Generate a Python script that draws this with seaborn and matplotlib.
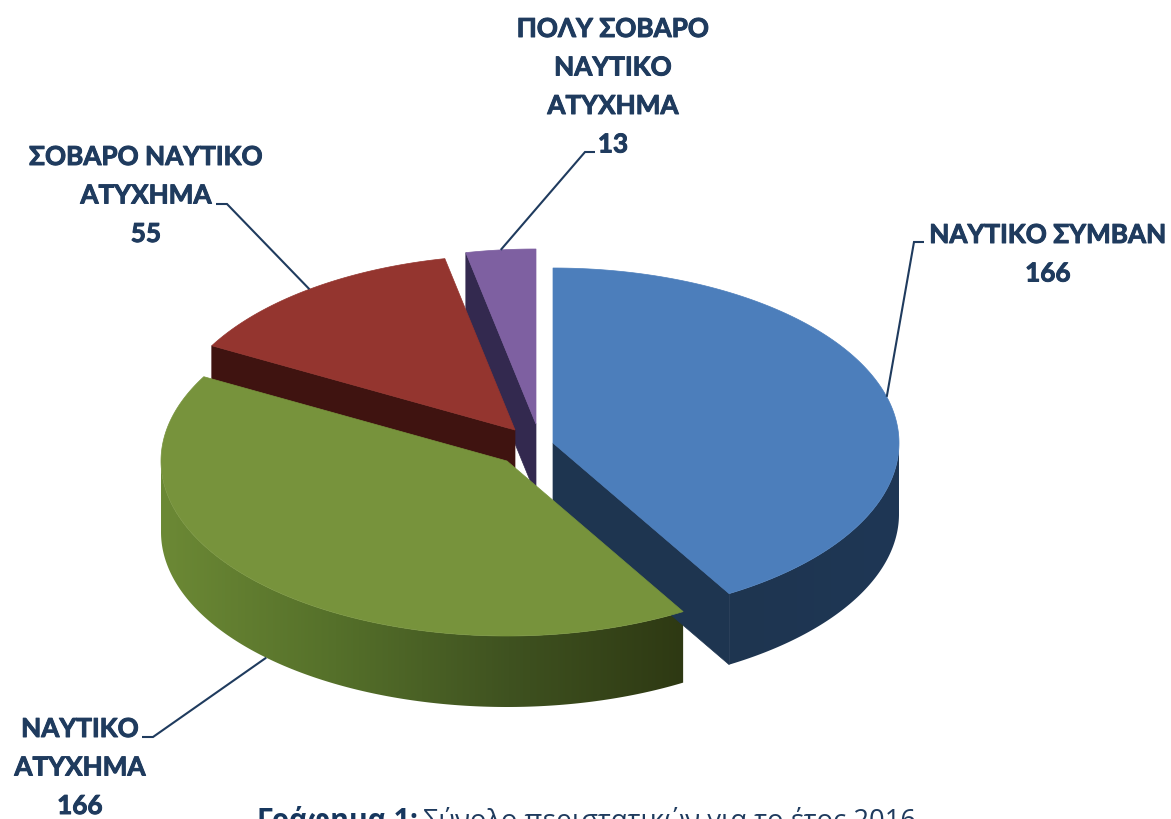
import numpy as np
import matplotlib
matplotlib.use("Agg")
import matplotlib.pyplot as plt
import matplotlib.patheffects as pe
from matplotlib.patches import Polygon
import seaborn as sns

# chart data
categories = ["ΝΑΥΤΙΚΟ ΣΥΜΒΑΝ", "ΝΑΥΤΙΚΟ ΑΤΥΧΗΜΑ", "ΣΟΒΑΡΟ ΝΑΥΤΙΚΟ ΑΤΥΧΗΜΑ", "ΠΟΛΥ ΣΟΒΑΡΟ ΝΑΥΤΙΚΟ ΑΤΥΧΗΜΑ"]
values = [166, 166, 55, 13]
label_lines = [
    ["ΝΑΥΤΙΚΟ ΣΥΜΒΑΝ"],
    ["ΝΑΥΤΙΚΟ", "ΑΤΥΧΗΜΑ"],
    ["ΣΟΒΑΡΟ ΝΑΥΤΙΚΟ", "ΑΤΥΧΗΜΑ"],
    ["ΠΟΛΥ ΣΟΒΑΡΟ", "ΝΑΥΤΙΚΟ", "ΑΤΥΧΗΜΑ"],
]
title_bold = "Γράφημα 1:"
title_rest = "Σύνολο περιστατικών για το έτος 2016"

# pie layout, in pixels of the picture
centers = [(553, 443), (507, 461), (515, 430), (536, 424)]
rx, ry = 346, 175
depth = 71

top_colors = ["#4C7EBB", "#77933C", "#94352F", "#7E60A1"]
wall_colors = ["#1E3550", "#303A14", "#3F1310", "#33294F"]
side_ramps = [
    sns.blend_palette(["#1E3550", "#1F3755"], 64),
    sns.blend_palette(["#6C8935", "#55702A", "#3F5220", "#2E3913"], 256),
]

# label layout: centre x, first line y, line step, leader elbow and end
label_x = [1048, 80, 146, 613]
label_y = [235, 729, 157, 29]
label_step = [38.5, 38.5, 38.5, 38.5]
leader_elbow = [(914, 242), (153, 737), (227, 204), (585, 152)]
leader_end = [(924, 242), (142, 737), (216, 204), (595, 152)]
text_color = "#1F3B5E"

sns.set_theme(style="white")
plt.rcParams["font.family"] = ["Lato", "Noto Sans", "DejaVu Sans"]

fig = plt.figure(figsize=(11.71, 8.19), dpi=100)
ax = fig.add_axes([0, 0, 1, 1])

# each slice starts where the last ended, going clockwise from the top
sweeps = np.array(values) / sum(values) * 360
ends = 90 - np.cumsum(sweeps)
starts = ends + sweeps


def rim(i, t):
    cx, cy = centers[i]
    t = np.radians(t)
    return cx + rx * np.cos(t), cy - ry * np.sin(t)


def draw_wall(i, t):
    # flat cut face of a slice, from the centre to the rim at angle t
    cx, cy = centers[i]
    x, y = rim(i, t)
    ax.fill([cx, x, x, cx], [cy, y, y + depth, cy + depth], color=wall_colors[i], lw=0.5)


def draw_top(i):
    cx, cy = centers[i]
    x, y = rim(i, np.linspace(starts[i], ends[i], 200))
    ax.fill(np.r_[cx, x], np.r_[cy, y], color=top_colors[i], lw=0.5)


def draw_side(i):
    # outer curved face, only the lower half of the rim can be seen
    t = np.linspace(max(ends[i], -180), min(starts[i], 0), 200)
    x, y = rim(i, t)
    outline = np.c_[np.r_[x, x[::-1]], np.r_[y, y[::-1] + depth]]
    shape = Polygon(outline, closed=True, transform=ax.transData, fc="none", ec="none")
    ax.add_patch(shape)
    ramp = np.array(side_ramps[i])[np.newaxis, :, :]
    im = ax.imshow(ramp, extent=[x.min(), x.max(), outline[:, 1].max(), outline[:, 1].min()],
                   aspect="auto", interpolation="bilinear")
    im.set_clip_path(shape)


# back to front
draw_wall(3, starts[3])
draw_top(3)
draw_wall(2, starts[2])
draw_top(2)
draw_wall(0, ends[0])
draw_side(0)
draw_top(0)
draw_side(1)
draw_top(1)

# labels and leader lines
heavier = [pe.withStroke(linewidth=0.7, foreground=text_color)]
for i, lines in enumerate(label_lines):
    for k, line in enumerate(lines + [str(values[i])]):
        ax.text(label_x[i], label_y[i] + k * label_step[i], line, ha="center", va="center",
                fontsize=18.8, fontweight="bold", color=text_color, path_effects=heavier)
    mid = (starts[i] + ends[i]) / 2
    x, y = rim(i, mid)
    if i == 1:
        y = y + depth
    ax.plot([x, leader_elbow[i][0], leader_end[i][0]], [y, leader_elbow[i][1], leader_end[i][1]],
            color=text_color, lw=1.5, solid_joinstyle="miter", solid_capstyle="butt")

# caption runs off the bottom of the picture, as in the original
ax.text(257, 829, title_bold, ha="left", va="baseline", fontsize=20.5, fontweight="bold",
        color="#17375E", family=["Open Sans", "DejaVu Sans"])
ax.text(423, 829, title_rest, ha="left", va="baseline", fontsize=19.7,
        color="#1F3B5E", family=["Open Sans", "DejaVu Sans"])

ax.set_xlim(0, 1171)
ax.set_ylim(819, 0)
ax.axis("off")

fig.savefig("out.png", dpi=100, facecolor="white")
